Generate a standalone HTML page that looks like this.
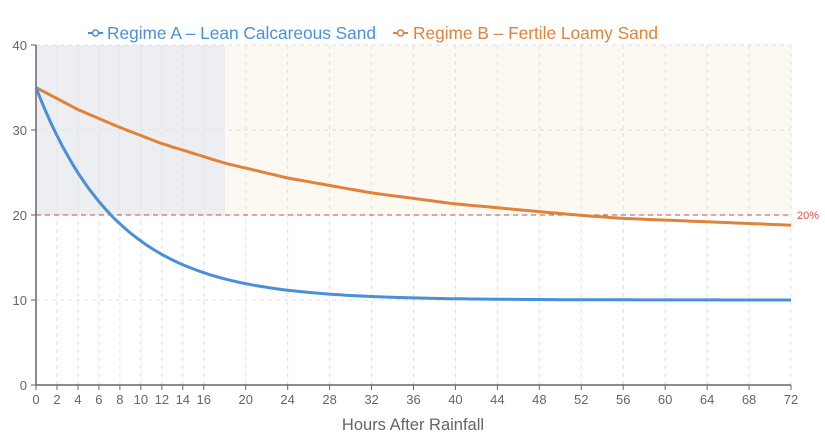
<!DOCTYPE html>
<html><head><meta charset="utf-8"><style>
body{margin:0;background:#fff;font-family:"Liberation Sans",sans-serif}
</style></head><body>
<svg id="s" width="825" height="437" xmlns="http://www.w3.org/2000/svg" font-family="Liberation Sans, sans-serif">
<rect x="0" y="0" width="825" height="437" fill="#fff"/>
<rect x="36" y="45" width="189" height="170" fill="#eceef1"/>
<rect x="225" y="45" width="566" height="170" fill="#fcf8f2"/>
<g id="grid" stroke="#e0e0e0" stroke-dasharray="4,4" stroke-width="1"></g>
<line x1="36" y1="215" x2="791" y2="215" stroke="#c0504d" stroke-dasharray="5,4" stroke-width="1"/>
<text x="797" y="219" font-size="11" fill="#d9534f">20%</text>
<g id="axes"></g>
<path id="pb" fill="none" stroke="#e0823a" stroke-width="3"/>
<path id="pa" fill="none" stroke="#4a90d9" stroke-width="3"/>
<g font-size="17.3">
<line x1="88" y1="33" x2="103" y2="33" stroke="#4a90d9" stroke-width="2"/><circle cx="95.5" cy="33" r="3" fill="#fff" stroke="#4a90d9" stroke-width="1.5"/>
<text x="107" y="39" fill="#4a90d9">Regime A – Lean Calcareous Sand</text>
<line x1="393" y1="33" x2="408" y2="33" stroke="#e0823a" stroke-width="2"/><circle cx="400.5" cy="33" r="3" fill="#fff" stroke="#e0823a" stroke-width="1.5"/>
<text x="413" y="39" fill="#e0823a">Regime B – Fertile Loamy Sand</text>
</g>
<text x="413" y="430" font-size="16.5" fill="#666" text-anchor="middle">Hours After Rainfall</text>
</svg>
<script>
var X=function(t){return 36+t*755/72},Y=function(v){return 385-v*8.5};
var ns="http://www.w3.org/2000/svg",g=document.getElementById('grid'),ax=document.getElementById('axes');
function el(p,tag,a,txt){var e=document.createElementNS(ns,tag);for(var k in a)e.setAttribute(k,a[k]);if(txt!=null)e.textContent=txt;p.appendChild(e);return e;}
var ticks=[0,2,4,6,8,10,12,14,16,20,24,28,32,36,40,44,48,52,56,60,64,68,72];
ticks.forEach(function(t){if(t>0)el(g,'line',{x1:X(t),y1:45,x2:X(t),y2:385});
el(ax,'line',{x1:X(t),y1:385,x2:X(t),y2:390,stroke:'#666'});
el(ax,'text',{x:X(t),y:404,'font-size':13,fill:'#666','text-anchor':'middle'},t);});
[10,20,30,40].forEach(function(v){el(g,'line',{x1:36,y1:Y(v),x2:791,y2:Y(v)});});
el(g,'line',{x1:791,y1:45,x2:791,y2:385});
[0,10,20,30,40].forEach(function(v){el(ax,'line',{x1:31,y1:Y(v),x2:36,y2:Y(v),stroke:'#666'});
el(ax,'text',{x:27,y:Y(v)+5,'font-size':13,fill:'#666','text-anchor':'end'},v);});
el(ax,'line',{x1:36,y1:45,x2:36,y2:385,stroke:'#666','stroke-width':1.5});
el(ax,'line',{x1:36,y1:385,x2:791,y2:385,stroke:'#666','stroke-width':1.5});
var a='',b='';
var bp=[[0,35],[4,32.4],[8,30.3],[12,28.4],[18,26.1],[24,24.35],[32,22.6],[40,21.3],[48,20.4],[52,19.95],[56,19.6],[64,19.2],[72,18.8]];
function bi(t){for(var i=0;i<bp.length-1;i++){if(t<=bp[i+1][0]){var f=(t-bp[i][0])/(bp[i+1][0]-bp[i][0]);return bp[i][1]+f*(bp[i+1][1]-bp[i][1]);}}return 18.8;}
for(var t=0;t<=72;t+=0.5){var va=10+25*Math.exp(-t/7.8);a+=(t?'L':'M')+X(t).toFixed(1)+','+Y(va).toFixed(1);b+=(t?'L':'M')+X(t).toFixed(1)+','+Y(bi(t)).toFixed(1);}
document.getElementById('pa').setAttribute('d',a);document.getElementById('pb').setAttribute('d',b);
</script>
</body></html>
